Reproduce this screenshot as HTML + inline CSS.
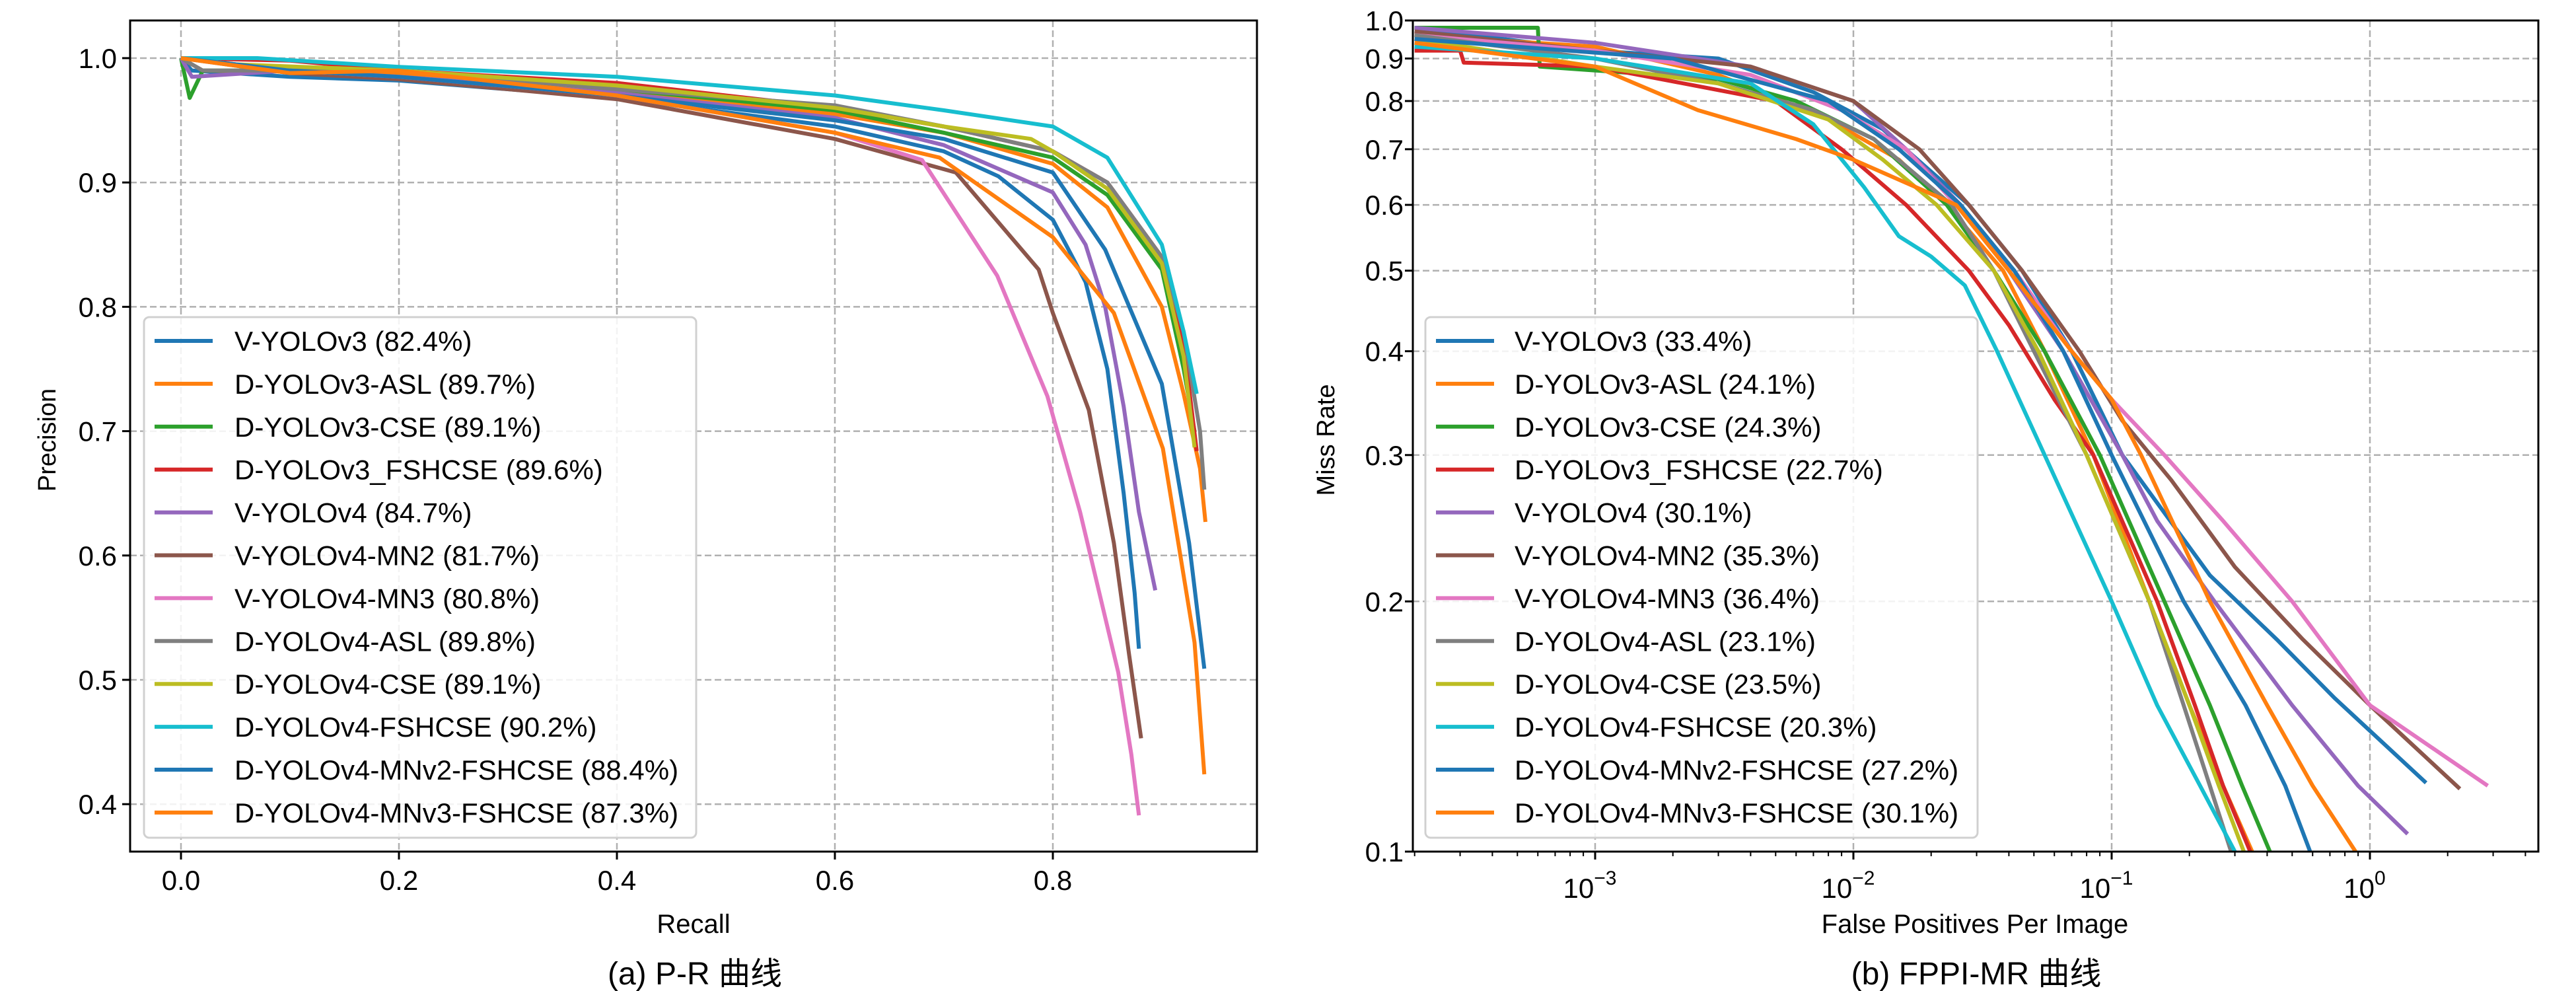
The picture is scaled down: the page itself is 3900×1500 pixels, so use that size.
<!DOCTYPE html>
<html><head><meta charset="utf-8">
<style>
html,body{margin:0;padding:0;background:#fff;}
svg{display:block;font-family:"Liberation Sans","Noto Sans CJK SC",sans-serif;}
</style></head>
<body>
<svg id="fig" width="3900" height="1500" viewBox="0 0 3900 1500" xmlns="http://www.w3.org/2000/svg">
<rect width="3900" height="1500" fill="#fff"/>
<g id="prPlot"></g>
<g id="fpPlot"></g>
</svg>
<script>
const seriesNames = ["V-YOLOv3 (82.4%)","D-YOLOv3-ASL (89.7%)","D-YOLOv3-CSE (89.1%)","D-YOLOv3_FSHCSE (89.6%)","V-YOLOv4 (84.7%)","V-YOLOv4-MN2 (81.7%)","V-YOLOv4-MN3 (80.8%)","D-YOLOv4-ASL (89.8%)","D-YOLOv4-CSE (89.1%)","D-YOLOv4-FSHCSE (90.2%)","D-YOLOv4-MNv2-FSHCSE (88.4%)","D-YOLOv4-MNv3-FSHCSE (87.3%)"];
const mrNames = ["V-YOLOv3 (33.4%)","D-YOLOv3-ASL (24.1%)","D-YOLOv3-CSE (24.3%)","D-YOLOv3_FSHCSE (22.7%)","V-YOLOv4 (30.1%)","V-YOLOv4-MN2 (35.3%)","V-YOLOv4-MN3 (36.4%)","D-YOLOv4-ASL (23.1%)","D-YOLOv4-CSE (23.5%)","D-YOLOv4-FSHCSE (20.3%)","D-YOLOv4-MNv2-FSHCSE (27.2%)","D-YOLOv4-MNv3-FSHCSE (30.1%)"];
const colors = ["#1f77b4","#ff7f0e","#2ca02c","#d62728","#9467bd","#8c564b","#e377c2","#7f7f7f","#bcbd22","#17becf","#1f77b4","#ff7f0e"];
const prXTicks = [0.0,0.2,0.4,0.6,0.8];
const prYTicks = [0.4,0.5,0.6,0.7,0.8,0.9,1.0];
const mrYTicks = [0.1,0.2,0.3,0.4,0.5,0.6,0.7,0.8,0.9,1.0];
const fpXTicks = [-3,-2,-1,0];
// PR data: [recall, precision]
const pr0 = [[0,1],[0.01,0.99],[0.1,0.985],[0.2,0.982],[0.4,0.968],[0.6,0.945],[0.7,0.925],[0.75,0.905],[0.8,0.87],[0.83,0.82],[0.85,0.75],[0.865,0.65],[0.875,0.57],[0.879,0.525]];
const pr1 = [[0,1],[0.02,0.99],[0.2,0.988],[0.4,0.972],[0.6,0.955],[0.7,0.94],[0.8,0.915],[0.85,0.88],[0.9,0.8],[0.92,0.73],[0.935,0.67],[0.94,0.627]];
const pr2 = [[0,1],[0.008,0.968],[0.02,0.99],[0.2,0.99],[0.4,0.975],[0.6,0.958],[0.7,0.94],[0.8,0.92],[0.85,0.89],[0.9,0.83],[0.92,0.75],[0.93,0.7]];
const pr3 = [[0,1],[0.1,0.998],[0.2,0.99],[0.4,0.98],[0.6,0.96],[0.7,0.945],[0.8,0.925],[0.85,0.9],[0.9,0.84],[0.92,0.77],[0.932,0.684]];
const pr4 = [[0,1],[0.01,0.985],[0.1,0.99],[0.2,0.985],[0.4,0.972],[0.6,0.952],[0.7,0.93],[0.8,0.892],[0.83,0.85],[0.848,0.8],[0.865,0.72],[0.879,0.635],[0.894,0.572]];
const pr5 = [[0,1],[0.1,0.988],[0.2,0.983],[0.4,0.967],[0.6,0.935],[0.711,0.908],[0.787,0.83],[0.8,0.795],[0.833,0.717],[0.856,0.61],[0.87,0.52],[0.881,0.453]];
const pr6 = [[0,1],[0.1,0.99],[0.2,0.985],[0.4,0.97],[0.6,0.94],[0.68,0.918],[0.749,0.825],[0.795,0.728],[0.825,0.635],[0.86,0.506],[0.872,0.44],[0.879,0.391]];
const pr7 = [[0,1],[0.02,0.99],[0.2,0.99],[0.4,0.975],[0.6,0.962],[0.7,0.945],[0.8,0.925],[0.85,0.9],[0.9,0.84],[0.92,0.78],[0.935,0.7],[0.939,0.653]];
const pr8 = [[0,1],[0.05,0.995],[0.2,0.99],[0.4,0.978],[0.6,0.96],[0.7,0.945],[0.78,0.935],[0.8,0.925],[0.85,0.895],[0.9,0.835],[0.92,0.76],[0.93,0.687]];
const pr9 = [[0,1],[0.07,1],[0.2,0.993],[0.4,0.985],[0.6,0.97],[0.7,0.958],[0.8,0.945],[0.85,0.92],[0.9,0.85],[0.92,0.78],[0.932,0.73]];
const pr10 = [[0,1],[0.1,0.99],[0.2,0.985],[0.4,0.97],[0.6,0.95],[0.7,0.935],[0.8,0.908],[0.848,0.846],[0.9,0.738],[0.925,0.61],[0.939,0.509]];
const pr11 = [[0,1],[0.1,0.988],[0.2,0.99],[0.4,0.97],[0.6,0.94],[0.696,0.92],[0.8,0.856],[0.856,0.795],[0.901,0.686],[0.93,0.53],[0.939,0.424]];
const prData = [pr0,pr1,pr2,pr3,pr4,pr5,pr6,pr7,pr8,pr9,pr10,pr11];
// FPPI-MR data: [fppi, missRate]
const mr0 = [[2e-4,0.98],[1e-3,0.92],[3e-3,0.9],[7e-3,0.82],[1.3e-2,0.74],[2.8e-2,0.6],[4.5e-2,0.5],[7e-2,0.4],[0.11,0.3],[0.24,0.215],[0.436,0.18],[0.73,0.153],[1.65,0.121]];
const mr1 = [[2e-4,0.96],[1e-3,0.93],[3e-3,0.86],[8e-3,0.76],[1.5e-2,0.68],[2.3e-2,0.6],[3.8e-2,0.5],[5.5e-2,0.4],[8.5e-2,0.3],[0.14,0.2],[0.2,0.15],[0.27,0.12],[0.35,0.1]];
const mr2 = [[2e-4,0.98],[6e-4,0.98],[6.1e-4,0.88],[3e-3,0.85],[6e-3,0.8],[1.2e-2,0.72],[2.3e-2,0.6],[3.5e-2,0.5],[5.5e-2,0.4],[9e-2,0.3],[0.16,0.2],[0.24,0.15],[0.32,0.12],[0.41,0.1]];
const mr3 = [[2e-4,0.92],[3e-4,0.92],[3.1e-4,0.89],[1e-3,0.88],[5e-3,0.8],[9e-3,0.7],[1.6e-2,0.6],[2.8e-2,0.5],[4e-2,0.43],[6e-2,0.35],[8.5e-2,0.3],[0.15,0.2],[0.21,0.15],[0.27,0.12],[0.344,0.1]];
const mr4 = [[2e-4,0.98],[1e-3,0.94],[4e-3,0.88],[1e-2,0.8],[1.6e-2,0.7],[2.6e-2,0.6],[4e-2,0.5],[6.5e-2,0.4],[0.11,0.3],[0.15,0.25],[0.25,0.2],[0.5,0.15],[0.9,0.12],[1.4,0.105]];
const mr5 = [[2e-4,0.97],[1e-3,0.92],[4e-3,0.88],[1e-2,0.8],[1.8e-2,0.7],[2.8e-2,0.6],[4.5e-2,0.5],[7.5e-2,0.4],[0.11,0.33],[0.17,0.28],[0.3,0.22],[0.55,0.18],[1.0,0.15],[2.23,0.119]];
const mr6 = [[2e-4,0.96],[1e-3,0.92],[4e-3,0.86],[9e-3,0.78],[1.6e-2,0.7],[2.5e-2,0.6],[4.2e-2,0.5],[7e-2,0.4],[0.1,0.35],[0.16,0.3],[0.27,0.25],[0.5,0.2],[1.0,0.15],[2.86,0.12]];
const mr7 = [[2e-4,0.96],[1e-3,0.9],[3e-3,0.84],[7e-3,0.78],[1.2e-2,0.72],[2.4e-2,0.6],[3.5e-2,0.5],[5e-2,0.4],[8e-2,0.3],[0.14,0.2],[0.19,0.15],[0.24,0.12],[0.29,0.1]];
const mr8 = [[2e-4,0.95],[1e-3,0.88],[3e-3,0.84],[8e-3,0.76],[1.3e-2,0.68],[2.1e-2,0.6],[3.5e-2,0.5],[5.2e-2,0.4],[8e-2,0.3],[0.14,0.2],[0.2,0.15],[0.26,0.12],[0.325,0.1]];
const mr9 = [[2e-4,0.93],[1e-3,0.9],[4e-3,0.84],[7e-3,0.75],[1.1e-2,0.63],[1.5e-2,0.55],[2e-2,0.52],[2.7e-2,0.48],[3.6e-2,0.4],[5.5e-2,0.3],[0.1,0.2],[0.15,0.15],[0.22,0.12],[0.3,0.1]];
const mr10 = [[2e-4,0.95],[2e-3,0.9],[8e-3,0.8],[1.5e-2,0.7],[2.6e-2,0.6],[4.2e-2,0.5],[6.5e-2,0.4],[0.1,0.3],[0.19,0.2],[0.33,0.15],[0.47,0.12],[0.587,0.1]];
const mr11 = [[2e-4,0.94],[1e-3,0.88],[2.5e-3,0.78],[6e-3,0.72],[1e-2,0.68],[2.5e-2,0.6],[4e-2,0.5],[7e-2,0.4],[0.1,0.35],[0.13,0.3],[0.24,0.2],[0.4,0.15],[0.6,0.12],[0.88,0.1]];
const mrData = [mr0,mr1,mr2,mr3,mr4,mr5,mr6,mr7,mr8,mr9,mr10,mr11];

const NS = "http://www.w3.org/2000/svg";
function mk(parent, tag, attrs, text){
  const e = document.createElementNS(NS, tag);
  for (const k in attrs) e.setAttribute(k, attrs[k]);
  if (text !== undefined) e.textContent = text;
  parent.appendChild(e);
  return e;
}
// PR axes
const A = {l:197,r:1903,t:31,b:1289};
const prX = v => 274 + v/0.2*330;
const prY = v => 88 + (1.0 - v)/0.1*188.2;
// MR axes
const B = {l:2139,r:3843,t:31,b:1289};
const fpX = v => 2415 + (Math.log10(v)+3)*391;
const mrY = v => 31 + (-Math.log10(v))*1258;

function drawFrame(g, box){
  const f = mk(g,'rect',{x:box.l,y:box.t,width:box.r-box.l,height:box.b-box.t,fill:'none',stroke:'#000','stroke-width':3});
  
  
}
function gridLine(g, x1,y1,x2,y2, name){
  const l = mk(g,'line',{x1,y1,x2,y2,stroke:'#b0b0b0','stroke-width':2.5,'stroke-dasharray':'10,5'});
  
  
}
function drawLegend(g, x, names, lineX, textX){
  const box = mk(g,'rect',{x:x,y:480,width:836,height:788,rx:8,fill:'#fff','fill-opacity':0.85,stroke:'#d0d0d0','stroke-width':3});
  
  
  names.forEach((n,i)=>{
    const y = 516 + i*64.9;
    const ln = mk(g,'line',{x1:lineX,y1:y,x2:lineX+88,y2:y,stroke:colors[i],'stroke-width':6});
    
    
    const t = mk(g,'text',{x:textX,y:y+15,'font-size':42,fill:'#000'},n);
    
    
  });
}

// ---- PR chart ----
const gp = document.getElementById('prPlot');
prXTicks.forEach(v=>{
  gridLine(gp, prX(v),A.t,prX(v),A.b,'x-gridline');
  mk(gp,'line',{x1:prX(v),y1:A.b,x2:prX(v),y2:A.b+12,stroke:'#000','stroke-width':3});
  const t = mk(gp,'text',{x:prX(v),y:A.b+58,'font-size':42,'text-anchor':'middle'},v.toFixed(1));
  
  
});
prYTicks.forEach(v=>{
  gridLine(gp, A.l,prY(v),A.r,prY(v),'y-gridline');
  mk(gp,'line',{x1:A.l-12,y1:prY(v),x2:A.l,y2:prY(v),stroke:'#000','stroke-width':3});
  const t = mk(gp,'text',{x:A.l-20,y:prY(v)+15,'font-size':42,'text-anchor':'end'},v.toFixed(1));
  
  
});
prData.forEach((s,i)=>{
  const p = mk(gp,'polyline',{points:s.map(d=>prX(d[0]).toFixed(1)+','+prY(d[1]).toFixed(1)).join(' '),fill:'none',stroke:colors[i],'stroke-width':6,'stroke-linejoin':'round'});
  
  
});
drawFrame(gp, A);
drawLegend(gp, 218, seriesNames, 234, 355);
{
  const t1 = mk(gp,'text',{x:1050,y:1412,'font-size':40,'text-anchor':'middle'},'Recall');
  
  
  const t2 = mk(gp,'text',{x:0,y:0,'font-size':38,'text-anchor':'middle',transform:'translate(84,666) rotate(-90)'},'Precision');
  
  
  const t3 = mk(gp,'text',{x:1052,y:1490,'font-size':48,'text-anchor':'middle'},'(a) P-R 曲线');
  
  
}

// ---- FPPI-MR chart ----
const gf = document.getElementById('fpPlot');
fpXTicks.forEach(e=>{
  const x = fpX(Math.pow(10,e));
  gridLine(gf, x,B.t,x,B.b,'x-gridline');
  mk(gf,'line',{x1:x,y1:B.b,x2:x,y2:B.b+12,stroke:'#000','stroke-width':3});
  const t = mk(gf,'text',{x:x-8,y:B.b+70,'font-size':42,'text-anchor':'middle'},'10');
  
  
  mk(t,'tspan',{dy:-20,'font-size':30},e===0?'0':'\u2212'+(-e));
});
for (let e=-4;e<=0;e++){
  for (let k=2;k<=9;k++){
    const v = k*Math.pow(10,e);
    const x = fpX(v);
    if (x<B.l || x>B.r) continue;
    mk(gf,'line',{x1:x,y1:B.b,x2:x,y2:B.b+7,stroke:'#000','stroke-width':2});
  }
}
mrYTicks.forEach(v=>{
  const y = mrY(v);
  if (v<1.0 && v>0.1) gridLine(gf, B.l,y,B.r,y,'y-gridline');
  mk(gf,'line',{x1:B.l-12,y1:y,x2:B.l,y2:y,stroke:'#000','stroke-width':3});
  const t = mk(gf,'text',{x:B.l-14,y:y+15,'font-size':42,'text-anchor':'end'},v.toFixed(1));
  
  
});
const clipDef = mk(gf,'clipPath',{id:'fpclip'});
mk(clipDef,'rect',{x:B.l,y:B.t,width:B.r-B.l,height:B.b-B.t});
mrData.forEach((s,i)=>{
  const p = mk(gf,'polyline',{points:s.map(d=>fpX(d[0]).toFixed(1)+','+mrY(d[1]).toFixed(1)).join(' '),fill:'none',stroke:colors[i],'stroke-width':6,'stroke-linejoin':'round','clip-path':'url(#fpclip)'});
  
  
});
drawFrame(gf, B);
drawLegend(gf, 2158, mrNames, 2174, 2293);
{
  const t1 = mk(gf,'text',{x:2990,y:1412,'font-size':40,'text-anchor':'middle'},'False Positives Per Image');
  
  
  const t2 = mk(gf,'text',{x:0,y:0,'font-size':38,'text-anchor':'middle',transform:'translate(2020,666) rotate(-90)'},'Miss Rate');
  
  
  const t3 = mk(gf,'text',{x:2992,y:1490,'font-size':48,'text-anchor':'middle'},'(b) FPPI-MR 曲线');
  
  
}
</script>
</body></html>
